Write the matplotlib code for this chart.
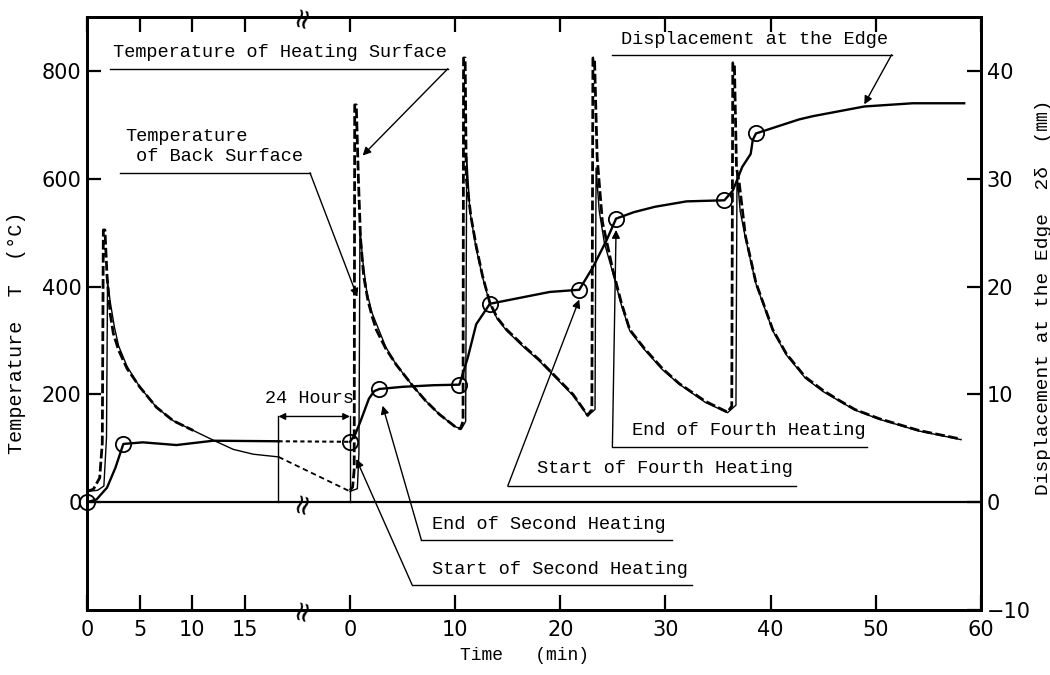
import matplotlib.pyplot as plt

# Drawn time axis: day-1 minutes, a 24 hour break, then day-2 minutes.
DAY2_SHIFT = 25  # position of day-2 "0 min" on the drawn axis

# Temperature of heating surface (deg C)
heat1_t = [0, 0.6, 1.2, 1.45, 1.55, 1.7, 1.9, 2.2, 2.5, 3.0, 3.8, 5.0, 6.6, 8.2, 10.1]
heat1_T = [20, 24, 45, 110, 505, 505, 420, 350, 313, 282, 248, 214, 176, 151, 133]
heat2_t = [0, 0.25, 0.4, 0.45, 0.6, 0.8, 1.0, 1.3, 1.7, 2.1, 2.5, 3.4, 4.4, 6.0, 7.2,
           8.5, 10.0, 10.5, 10.75, 10.8, 10.95, 11.06, 11.5, 12.0, 12.6, 13.3, 14.0,
           14.9, 16.5, 18.0, 19.6, 21.2, 22.0, 22.6, 23.0, 23.1, 23.25, 23.5, 24.0,
           25.0, 25.8, 26.6, 28.0, 29.7, 31.3, 33.8, 35.9, 36.3, 36.4, 36.55, 36.75,
           37.0, 37.6, 38.6, 40.2, 41.5, 43.3, 45.0, 46.5, 48.0, 50.3, 54.1, 58.1]
heat2_T = [22, 28, 60, 737, 737, 600, 490, 420, 375, 345, 320, 285, 255, 215, 188,
           163, 140, 136, 150, 824, 824, 600, 530, 475, 420, 370, 342,
           320, 290, 264, 232, 200, 178, 161, 172, 824, 824, 640, 520,
           430, 370, 320, 285, 248, 220, 187, 167, 178, 815, 815, 620,
           594, 494, 407, 320, 275, 232, 207, 189, 172, 155, 133, 117]

# Temperature of back surface (deg C)
back1_t = [0, 1.0, 1.6, 1.85, 1.95, 2.2, 2.6, 3.0, 3.8, 5.0, 6.6, 8.2, 10.1, 12.0,
           13.9, 15.8, 18.2]
back1_T = [20, 22, 30, 120, 410, 372, 325, 290, 252, 214, 176, 151, 133, 115,
           98, 89, 84]
back2_t = [0, 0.7, 0.85, 0.95, 1.2, 1.6, 2.1, 3.4, 4.4, 6.0, 7.2, 8.5, 10.0, 10.6,
           11.0, 11.1, 11.4, 12.0, 12.6, 13.3, 14.0, 14.9, 16.5, 18.0, 19.6, 21.2,
           22.0, 22.6, 23.3, 23.4, 23.7, 24.2, 25.0, 25.8, 26.6, 28.0, 29.7, 31.3,
           33.8, 35.9, 36.7, 36.8, 37.1, 37.6, 38.6, 40.2, 41.5, 43.3, 45.0, 46.5,
           48.0, 50.3, 54.1, 58.1]
back2_T = [20, 25, 90, 510, 450, 390, 351, 288, 255, 215, 188, 163, 140, 136,
           150, 640, 540, 470, 418, 368, 340, 318, 288, 262, 230, 198,
           177, 160, 172, 620, 540, 480, 425, 366, 318, 283, 246, 219,
           185, 166, 180, 610, 540, 490, 405, 318, 273, 230, 205, 188,
           171, 154, 132, 116]

# Displacement at the edge 2*delta (mm)
disp1_t = [0, 0.9, 1.9, 2.7, 3.45, 5.3, 8.5, 12.0, 18.2]
disp1_d = [0, 0.25, 1.35, 3.2, 5.4, 5.55, 5.3, 5.7, 5.65]
disp2_t = [0, 0.5, 1.0, 1.8, 2.3, 2.8, 5.0, 8.0, 10.4, 11.2, 12.0, 13.3, 16.4, 19.0,
           21.8, 23.1, 24.4, 25.3, 27.0, 29.0, 32.0, 35.6, 36.4, 37.3, 38.1, 38.3,
           38.6, 42.7, 44.0, 48.9, 53.5, 58.4]
disp2_d = [5.6, 6.3, 7.5, 9.6, 10.3, 10.5, 10.7, 10.85, 10.9, 13.4, 16.5, 18.4, 19.0,
           19.5, 19.7, 21.8, 24.3, 26.3, 26.9, 27.4, 27.9, 28.0, 28.9, 31.1, 32.3,
           33.6, 34.2, 35.5, 35.8, 36.7, 37.0, 37.0]
# measured points (circles)
pts1_t = [0, 3.45]
pts1_d = [0, 5.4]
pts2_t = [0, 2.8, 10.4, 13.3, 21.8, 25.3, 35.6, 38.6]
pts2_d = [5.6, 10.5, 10.9, 18.4, 19.7, 26.3, 28.0, 34.2]

day1_ticks = [0, 5, 10, 15]
day2_ticks = [0, 10, 20, 30, 40, 50, 60]
temp_ticks = [0, 200, 400, 600, 800]
disp_ticks = [-10, 0, 10, 20, 30, 40]

MONO = ['Liberation Mono', 'Noto Sans CJK JP']
plt.rcParams['font.family'] = ['DejaVu Sans']


def shift(ts):
    return [t + DAY2_SHIFT for t in ts]


fig = plt.figure(figsize=(10.5, 6.75), dpi=100)
ax = fig.add_axes([0.0829, 0.0963, 0.8514, 0.8785])
ax2 = ax.twinx()

ax.set_xlim(0, 85)
ax.set_ylim(-200, 900)
ax2.set_ylim(-10, 45)

# temperatures
ax.plot(back1_t, back1_T, color='k', lw=1.0)
ax.plot(shift(back2_t), back2_T, color='k', lw=1.0)
ax.plot([back1_t[-1], DAY2_SHIFT + back2_t[0]], [back1_T[-1], back2_T[0]],
        color='k', lw=1.3, ls=(0, (3, 2)))
ax.plot(heat1_t, heat1_T, color='k', lw=2.0, dashes=(3.5, 1.2))
ax.plot(shift(heat2_t), heat2_T, color='k', lw=2.0, dashes=(3.5, 1.2))

# displacement
ax2.plot(disp1_t, disp1_d, color='k', lw=1.7)
ax2.plot(shift(disp2_t), disp2_d, color='k', lw=1.7)
ax2.plot([disp1_t[-1], DAY2_SHIFT + disp2_t[0]], [disp1_d[-1], disp2_d[0]],
         color='k', lw=1.5, ls=(0, (2, 1.5)))
ax2.plot(pts1_t + shift(pts2_t), pts1_d + pts2_d, 'o', ms=11, mfc='none',
         mec='k', mew=1.3, clip_on=False)

ax.axhline(0, color='k', lw=1.6)

# 24 hour gap marker
night0 = back1_t[-1]
ax.plot([night0, night0], [0, 159], color='k', lw=1.0)
ax.plot([DAY2_SHIFT, DAY2_SHIFT], [0, 159], color='k', lw=1.0)
ax.annotate('', xy=(night0, 159), xytext=(DAY2_SHIFT, 159),
            arrowprops=dict(arrowstyle='<|-|>', color='k', lw=1.0,
                            mutation_scale=10, shrinkA=0, shrinkB=0))
ax.text(16.9, 192, '24 Hours', family=MONO, size=13.4, ha='left', va='center')


def callout(text, text_xy, line_pts):
    ax.text(text_xy[0], text_xy[1], text, family=MONO, size=13.4,
            ha='left', va='center', linespacing=1.25)
    xs = [p[0] for p in line_pts[:-1]]
    ys = [p[1] for p in line_pts[:-1]]
    ax.plot(xs, ys, color='k', lw=1.0)
    ax.annotate('', xy=line_pts[-1], xytext=line_pts[-2],
                arrowprops=dict(arrowstyle='-|>', color='k', lw=1.0,
                                mutation_scale=12, shrinkA=0, shrinkB=0))


callout('Temperature of Heating Surface', (2.5, 834),
        [(2.2, 804), (34.3, 804), (26.2, 643)])
callout('Temperature\n of Back Surface', (3.6, 660),
        [(3.13, 611), (21.2, 611), (25.7, 381)])
callout('Displacement at the Edge', (50.8, 858),
        [(49.95, 830), (76.5, 830), (73.9, 738)])
callout('End of Fourth Heating', (51.8, 133),
        [(74.2, 103), (49.95, 103), (50.3, 505)])
callout('Start of Fourth Heating', (42.8, 62),
        [(67.4, 30), (40.0, 30), (46.8, 376)])
callout('End of Second Heating', (32.8, -41),
        [(55.6, -71), (31.8, -71), (28.1, 179)])
callout('Start of Second Heating', (32.8, -125),
        [(57.5, -153), (30.9, -153), (25.6, 80)])

# axis break marks
brk_x = 20.4
for yy, tr in [(1, ax.get_xaxis_transform()), (0, ax.get_xaxis_transform()),
               (0, ax.transData)]:
    ax.text(brk_x, yy, '\u2248', transform=tr, rotation=75, size=20,
            ha='center', va='center', clip_on=False)

# ticks
ax.set_xticks(day1_ticks + shift(day2_ticks))
ax.set_xticklabels([str(t) for t in day1_ticks] + [str(t) for t in day2_ticks])
ax.set_yticks(temp_ticks)
ax.set_yticklabels([str(t) for t in temp_ticks])
ax2.set_yticks(disp_ticks)
ax2.set_yticklabels([str(t).replace('-', '\u2212') for t in disp_ticks])

ax.tick_params(axis='x', direction='in', length=11, width=1.6, top=True,
               labelsize=15, pad=7)
ax.tick_params(axis='y', direction='in', length=10, width=1.6, right=False,
               labelsize=15, pad=4)
ax2.tick_params(axis='y', direction='in', length=10, width=1.6, labelsize=15, pad=4)
for a in (ax, ax2):
    for s in a.spines.values():
        s.set_linewidth(2.0)

fig.text(17 / 1050, 1 - 333 / 675, 'Temperature  T  (°C)', rotation=90,
         ha='center', va='center', family=MONO, size=14.5)
fig.text(1043 / 1050, 1 - 297 / 675, 'Displacement at the Edge  2δ  (㎜)',
         rotation=90, ha='center', va='center', family=MONO, size=14)
fig.text(524 / 1050, 1 - 655 / 675, 'Time   (min)', ha='center', va='center',
         family=MONO, size=13)

fig.savefig('out.png', dpi=100)
